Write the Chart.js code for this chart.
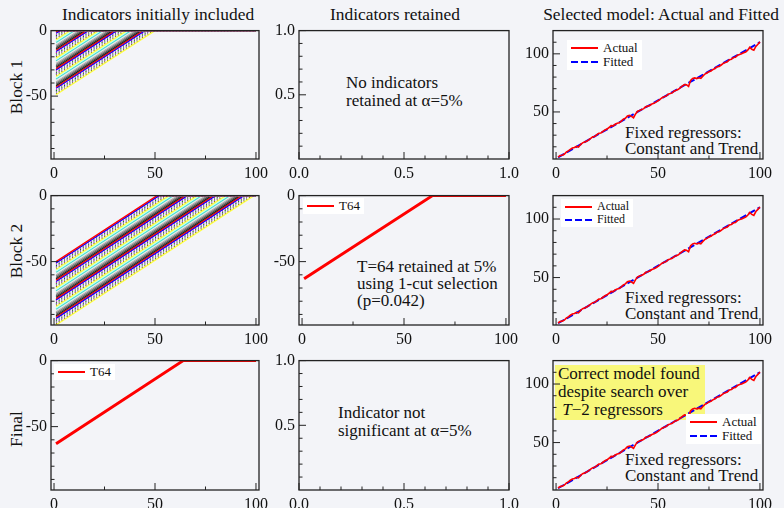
<!DOCTYPE html>
<html>
<head>
<meta charset="utf-8">
<script src="https://cdn.jsdelivr.net/npm/chart.js@4.4.0/dist/chart.umd.min.js"></script>
<style>
  body { margin: 0; background: #f3f4f8; }
  #page { position: relative; width: 784px; height: 508px; overflow: hidden; font-family: "Liberation Serif", "DejaVu Serif", serif; color: #111; }
  #page canvas { position: absolute; }
  .t { position: absolute; font-size: 17px; line-height: 18px; white-space: nowrap; }
  .title { top: 5px; transform: translateX(-50%); font-size: 17.4px; }
  .row { transform: translate(-50%, -50%) rotate(-90deg); font-size: 17.4px; }
  .legend { position: absolute; background: #fff; font-size: 13px; line-height: 14px; padding: 1px 4px; white-space: nowrap; }
  .legend div { display: flex; align-items: center; }
  .sw { display: inline-block; width: 27px; height: 2px; margin-right: 5px; }
  .note { position: absolute; background: #f8f77a; font-size: 17px; line-height: 18px; padding: 0 3px; white-space: nowrap; }
</style>
</head>
<body>
<div id="page">
  <div class="t title" style="left:158px">Indicators initially included</div>
  <div class="t title" style="left:395px">Indicators retained</div>
  <div class="t title" style="left:661px">Selected model: Actual and Fitted</div>
  <div class="t row" style="left:16px; top:87px">Block 1</div>
  <div class="t row" style="left:16px; top:251px">Block 2</div>
  <div class="t row" style="left:16px; top:429px">Final</div>

  <div class="t" style="left:346px; top:74px">No indicators<br>retained at &alpha;=5%</div>
  <div class="t" style="left:357px; top:258px; line-height:17px">T=64 retained at 5%<br>using 1-cut selection<br>(p=0.042)</div>
  <div class="t" style="left:338px; top:404px">Indicator not<br>significant at &alpha;=5%</div>
  <div class="t" style="left:625px; top:125px; line-height:16px">Fixed regressors:<br>Constant and Trend</div>
  <div class="t" style="left:625px; top:290px; line-height:16px">Fixed regressors:<br>Constant and Trend</div>
  <div class="t" style="left:625px; top:452px; line-height:16px">Fixed regressors:<br>Constant and Trend</div>
  <div class="note" style="left:555px; top:365px; width:144px; height:55px">Correct model found<br>despite search over<br>&nbsp;<i>T</i>&minus;2 regressors</div>
</div>
<script>
// observations t = 1..T
const T = 100;
const obs = Array.from({ length: T }, (_, i) => i + 1);

// break dates of the trend indicators in each block
const block1Dates = [2, 3, 4, 5, 6, 7, 8, 9, 10, 11, 12, 13, 14, 15, 16, 17, 18, 19, 20, 21, 22, 23, 24, 25, 26,
  27, 28, 29, 30, 31, 32, 33, 34, 35, 36, 37, 38, 39, 40, 41, 42, 43, 44, 45, 46, 47, 48, 49, 50];
const block2Dates = [51, 52, 53, 54, 55, 56, 57, 58, 59, 60, 61, 62, 63, 64, 65, 66, 67, 68, 69, 70, 71, 72, 73,
  74, 75, 76, 77, 78, 79, 80, 81, 82, 83, 84, 85, 86, 87, 88, 89, 90, 91, 92, 93, 94, 95, 96, 97, 98, 99];
const retainedDate = 64;

// actual series and the constant+trend fit
const actual = [11.2, 12.5, 12.8, 13.6, 15.4, 16.5, 17.8, 18.9, 19.4, 20.3,
  19.8, 21.9, 23.4, 24.1, 24.8, 26.0, 27.3, 28.6, 28.9, 30.4,
  31.6, 31.9, 33.2, 34.5, 35.3, 36.6, 38.2, 38.0, 39.4, 40.3,
  40.6, 42.1, 43.8, 44.6, 46.5, 47.0, 46.2, 45.0, 48.3, 50.6,
  51.3, 52.0, 52.8, 54.5, 55.0, 55.6, 56.9, 57.5, 58.4, 59.6,
  60.9, 62.3, 63.0, 63.6, 65.3, 65.8, 66.4, 68.1, 68.7, 69.5,
  71.0, 72.4, 73.6, 73.3, 72.0, 77.2, 78.8, 79.3, 78.7, 79.4,
  78.9, 80.8, 82.6, 83.5, 84.7, 85.2, 86.6, 87.4, 88.9, 89.1,
  90.4, 91.8, 92.5, 93.1, 95.0, 95.4, 96.8, 97.0, 98.8, 99.5,
  100.1, 100.9, 101.6, 103.2, 105.6, 103.9, 103.1, 106.4, 108.2, 110.3];
const fittedT = [1, 100];
const fitted = [11.0, 110.0];

// line colours / dash patterns cycled over the indicators
const dot = [1, 2.2];
const indicatorStyles = [
  ['#ff0000', []], ['#0000ff', []], ['#c000c0', dot], ['#008000', dot], ['#8040c0', dot],
  ['#808000', dot], ['#ffff40', []], ['#c0fff0', []], ['#40e0d0', []], ['#e8e8e8', []],
  ['#b0b0b0', []], ['#808080', []], ['#505050', []], ['#202020', []]
];

const FONT = { family: '"Liberation Serif", "DejaVu Serif", serif', size: 16 };

// trend indicator with break at date k: t-k before k, zero afterwards
function indicatorPoints(k) {
  return [{ x: obs[0], y: obs[0] - k }, { x: k, y: 0 }, { x: obs[T - 1], y: 0 }];
}

function indicatorSets(dates) {
  return dates.map((k, i) => {
    const [c, d] = indicatorStyles[i % indicatorStyles.length];
    return { data: indicatorPoints(k), borderColor: c, borderDash: d, borderWidth: 1.3 };
  });
}

const frame = {
  id: 'frame',
  afterDraw(chart, args, o) {
    const { ctx, chartArea: a, scales } = chart;
    ctx.save();
    ctx.strokeStyle = '#222';
    ctx.lineWidth = 1;
    ctx.beginPath();
    o.xMinor.forEach(v => { const p = scales.x.getPixelForValue(v); ctx.moveTo(p, a.bottom); ctx.lineTo(p, a.bottom - 3.5); });
    o.xMajor.forEach(v => { const p = scales.x.getPixelForValue(v); ctx.moveTo(p, a.bottom); ctx.lineTo(p, a.bottom - 7); });
    o.yMinor.forEach(v => { const p = scales.y.getPixelForValue(v); ctx.moveTo(a.left, p); ctx.lineTo(a.left + 3.5, p); });
    o.yMajor.forEach(v => { const p = scales.y.getPixelForValue(v); ctx.moveTo(a.left, p); ctx.lineTo(a.left + 7, p); });
    ctx.stroke();
    ctx.lineWidth = 1.3;
    ctx.strokeRect(a.left, a.top, a.right - a.left, a.bottom - a.top);
    ctx.restore();
  }
};

const cols = [[51, 259], [299, 509], [553, 763]];
const rows = [[29, 159], [194, 325], [359, 490]];
const YW = 44, XH = 28, PT = 12, PR = 18;

const stepAxes = { xMin: -1.5, xMax: 101.5, xMajor: [0, 50, 100], xMinor: [25, 75],
  yMin: -98, yMax: 0, yMajor: [0, -50], yMinor: [-10, -20, -30, -40, -60, -70, -80, -90], dec: 0 };
const unitAxes = { xMin: 0, xMax: 1, xMajor: [0, 0.5, 1], xMinor: [0.1, 0.2, 0.3, 0.4, 0.6, 0.7, 0.8, 0.9],
  yMin: 0, yMax: 1, yMajor: [1, 0.5], yMinor: [0.1, 0.2, 0.3, 0.4, 0.6, 0.7, 0.8, 0.9], dec: 1 };
const fitAxes = { xMin: -1.5, xMax: 101.5, xMajor: [0, 50, 100], xMinor: [25, 75],
  yMin: 9.5, yMax: 120, yMajor: [100, 50], yMinor: [20, 30, 40, 60, 70, 80, 90, 110], dec: 0 };

function fitSets() {
  return [
    { data: obs.map((t, i) => ({ x: t, y: actual[i] })), borderColor: '#ff0000', borderWidth: 1.6 },
    { data: fittedT.map((t, i) => ({ x: t, y: fitted[i] })), borderColor: '#0000ff', borderWidth: 2, borderDash: [7, 3] }
  ];
}

function panel(col, row, datasets, ax) {
  const [L, R] = cols[col], [Tp, B] = rows[row];
  const cv = document.createElement('canvas');
  const w = YW + (R - L) + PR, h = PT + (B - Tp) + XH;
  cv.width = w; cv.height = h;
  cv.style.left = (L - YW) + 'px'; cv.style.top = (Tp - PT) + 'px';
  cv.style.width = w + 'px'; cv.style.height = h + 'px';
  document.getElementById('page').appendChild(cv);
  const fmt = v => ax.dec ? Number(v).toFixed(ax.dec) : String(v);
  new Chart(cv, {
    type: 'line',
    data: { datasets },
    options: {
      responsive: false, animation: false, devicePixelRatio: 1,
      layout: { padding: { top: PT, right: PR, left: 0, bottom: 0 }, autoPadding: false },
      elements: { point: { radius: 0 }, line: { tension: 0 } },
      plugins: { legend: { display: false }, tooltip: { enabled: false },
        frame: { xMajor: ax.xMajor, xMinor: ax.xMinor, yMajor: ax.yMajor, yMinor: ax.yMinor } },
      scales: {
        x: { type: 'linear', min: ax.xMin, max: ax.xMax,
          grid: { display: false, drawTicks: false }, border: { display: false },
          afterBuildTicks: s => { s.ticks = ax.xMajor.map(v => ({ value: v })); },
          afterFit: s => { s.height = XH; },
          ticks: { font: FONT, color: '#111', padding: 5, maxRotation: 0, autoSkip: false, callback: fmt } },
        y: { type: 'linear', min: ax.yMin, max: ax.yMax,
          grid: { display: false, drawTicks: false }, border: { display: false },
          afterBuildTicks: s => { s.ticks = ax.yMajor.map(v => ({ value: v })); },
          afterFit: s => { s.width = YW; },
          ticks: { font: FONT, color: '#111', padding: 4, autoSkip: false, callback: fmt } }
      }
    },
    plugins: [frame]
  });
}

function legend(left, top, items, size) {
  const box = document.createElement('div');
  box.className = 'legend';
  box.style.left = left + 'px'; box.style.top = top + 'px';
  if (size) { box.style.fontSize = size + 'px'; box.style.lineHeight = (size + 1) + 'px'; }
  items.forEach(([label, color, dashed]) => {
    const r = document.createElement('div');
    const sw = document.createElement('span');
    sw.className = 'sw';
    sw.style.background = dashed
      ? `repeating-linear-gradient(90deg, ${color} 0 7px, transparent 7px 10px)` : color;
    r.appendChild(sw);
    r.appendChild(document.createTextNode(label));
    box.appendChild(r);
  });
  document.getElementById('page').appendChild(box);
}

const retained = [{ data: indicatorPoints(retainedDate), borderColor: '#ff0000', borderWidth: 3 }];

panel(0, 0, indicatorSets(block1Dates), stepAxes);
panel(1, 0, [], unitAxes);
panel(2, 0, fitSets(), fitAxes);
panel(0, 1, indicatorSets(block2Dates), stepAxes);
panel(1, 1, retained, stepAxes);
panel(2, 1, fitSets(), fitAxes);
panel(0, 2, retained, stepAxes);
panel(1, 2, [], unitAxes);
panel(2, 2, fitSets(), fitAxes);

const fitLegend = [['Actual', '#ff0000', false], ['Fitted', '#0000ff', true]];
legend(567, 40, fitLegend);
legend(561, 199, fitLegend, 12);
legend(686, 414, fitLegend);
legend(303, 198, [['T64', '#ff0000', false]]);
legend(54, 364, [['T64', '#ff0000', false]]);
</script>
</body>
</html>
